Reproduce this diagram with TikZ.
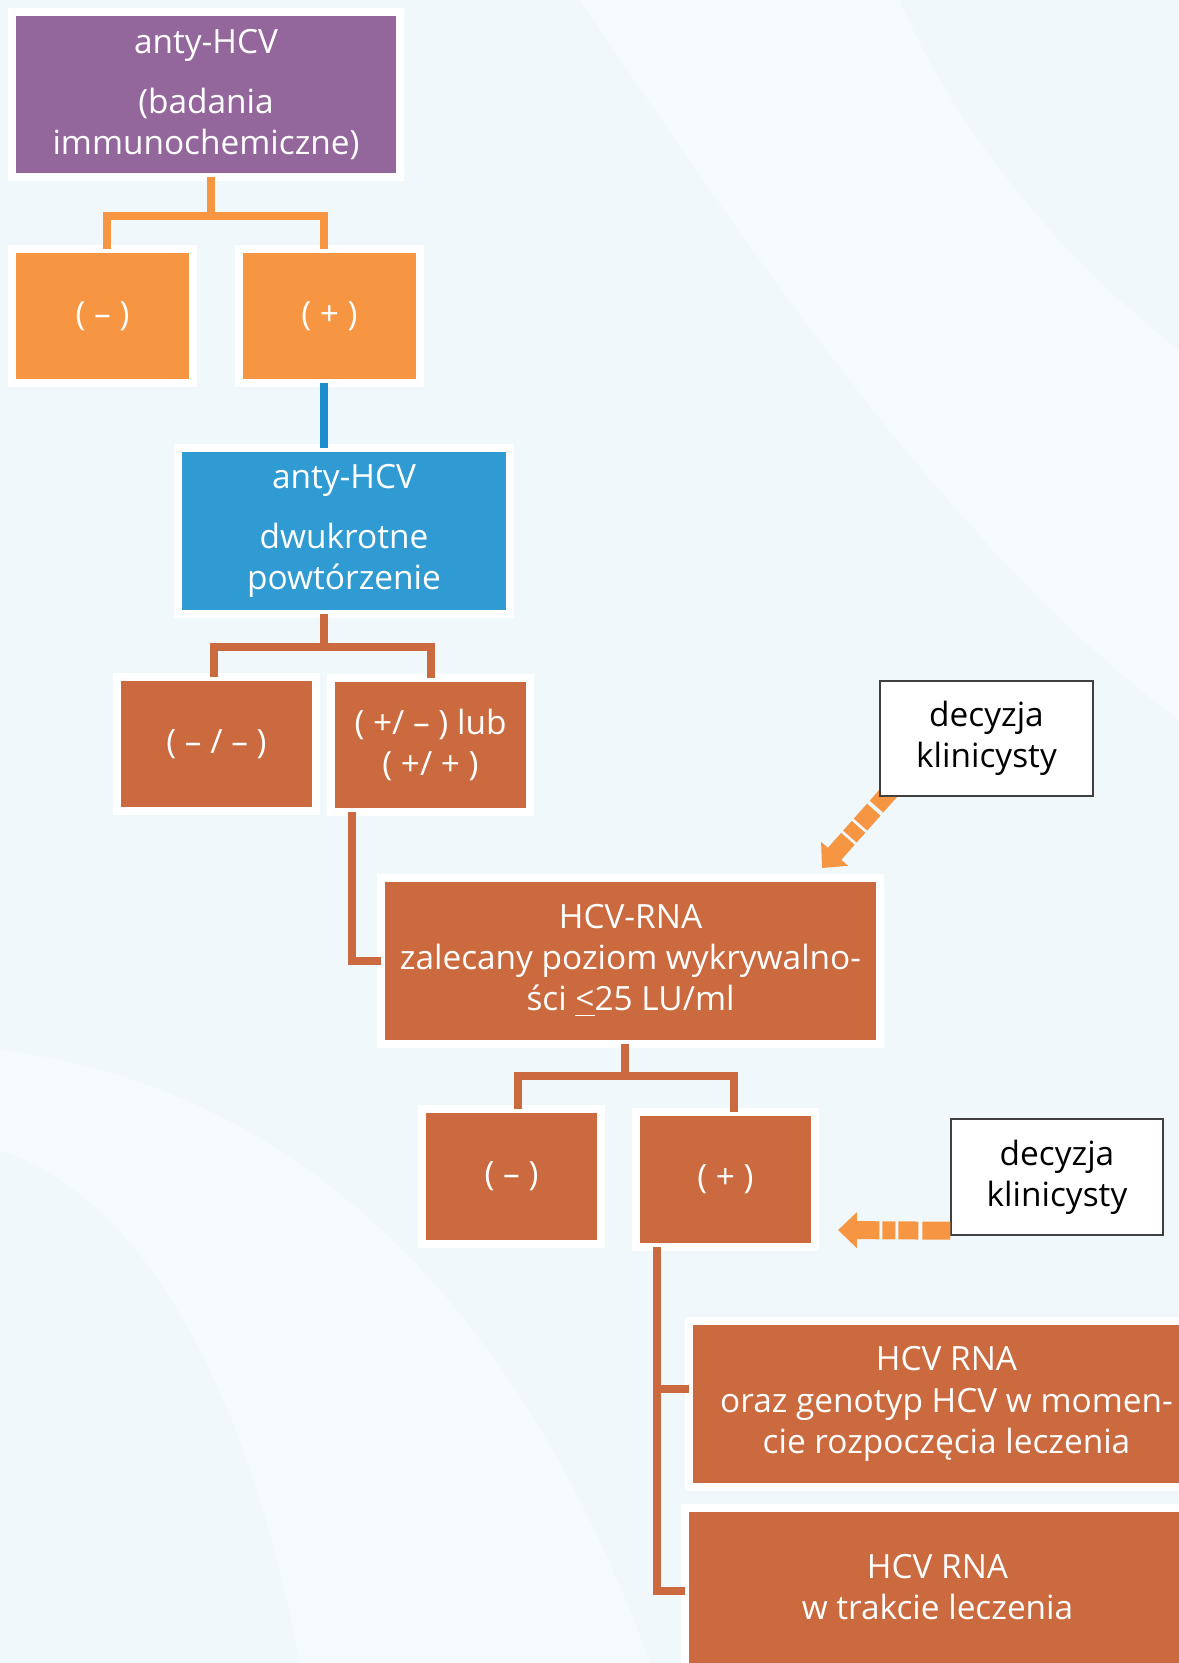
\documentclass[tikz,border=0pt]{standalone}
\usepackage{fontspec}
\setmainfont{Open Sans}
\usetikzlibrary{arrows.meta,positioning,calc}
\pgfdeclarelayer{background}
\pgfsetlayers{background,main}
\definecolor{hcvpurple}{RGB}{148,103,156}
\definecolor{hcvorange}{RGB}{247,150,66}
\definecolor{hcvblue}{RGB}{48,155,210}
\definecolor{hcvlineblue}{RGB}{30,141,203}
\definecolor{hcvbrown}{RGB}{202,106,62}
\definecolor{hcvbg}{RGB}{241,248,252}
\tikzset{link/.style={line width=0.08cm, line join=miter}}

\begin{document}
\begin{tikzpicture}[
    box/.style={rectangle, draw=white, line width=0.08cm, outer sep=0pt, inner sep=0pt,
        text=white, align=center, font=\fontsize{9.5}{11.7}\selectfont},
    note/.style={rectangle, draw=black!75, line width=0.4pt, fill=white, text=black,
        align=center, inner sep=0pt, font=\fontsize{9.5}{11.7}\selectfont},
    hint/.style={draw=hcvorange, line width=0.18cm, -{Triangle[width=0.35cm,length=0.19cm]}}]
    \useasboundingbox (0,0) rectangle (11.79,-16.63);
    \begin{pgfonlayer}{background}
        \fill[hcvbg] (0,0) rectangle (11.79,-16.63);
        % soft light swirls
        \fill[white, opacity=0.3] (5.8,0) .. controls (7.5,-2.5) and (9.5,-5.5) .. (11.79,-7.2)
            -- (11.79,-3.5) .. controls (10.5,-2.5) and (9.5,-1.2) .. (9,0) -- cycle;
        \fill[white, opacity=0.3] (0,-10.5) .. controls (2.5,-10.8) and (5,-12.5) .. (6.5,-16.63)
            -- (3,-16.63) .. controls (2.5,-14) and (1.5,-12) .. (0,-11.5) -- cycle;
    \end{pgfonlayer}

    \node[box, fill=hcvpurple, minimum width=3.88cm, minimum height=1.65cm] (anti1) at (2.06,-0.945)
        {anty-HCV\\[5.4pt](badania\\immunochemiczne)};
    \node[box, fill=hcvorange, minimum width=1.81cm, minimum height=1.34cm] (neg1) at (1.025,-3.16) {( – )};
    \node[box, fill=hcvorange, minimum width=1.81cm, minimum height=1.34cm] (pos1) at (3.295,-3.16) {( + )};

    \node[box, fill=hcvblue, minimum width=3.32cm, minimum height=1.66cm] (anti2) at (3.44,-5.31)
        {anty-HCV\\[5.4pt]dwukrotne\\powtórzenie};
    \node[box, fill=hcvbrown, minimum width=1.99cm, minimum height=1.34cm] (negneg) at (2.165,-7.44) {( – / – )};
    \node[box, fill=hcvbrown, minimum width=1.99cm, minimum height=1.34cm] (posx) at (4.305,-7.45)
        {( +/ – ) lub\\( +/ + )};

    \node[box, fill=hcvbrown, minimum width=4.99cm, minimum height=1.66cm] (rna) at (6.305,-9.61)
        {HCV-RNA\\zalecany poziom wykrywalno-\\ści \underline{<}25 LU/ml};
    \node[box, fill=hcvbrown, minimum width=1.79cm, minimum height=1.35cm] (neg2) at (5.115,-11.765) {( – )};
    \node[box, fill=hcvbrown, minimum width=1.79cm, minimum height=1.35cm] (pos2) at (7.255,-11.795) {( + )};

    \node[box, fill=hcvbrown, minimum width=5.15cm, minimum height=1.66cm] (rnaA) at (9.465,-14.04)
        {HCV RNA\\oraz genotyp HCV w momen-\\cie rozpoczęcia leczenia};
    \node[box, fill=hcvbrown, minimum width=5.19cm, minimum height=1.66cm] (rnaB) at (9.445,-15.91)
        {\hspace*{-0.14cm}\begin{tabular}{@{}c@{}}HCV RNA\\w trakcie leczenia\end{tabular}};

    \node[note, minimum width=2.13cm, minimum height=1.15cm] (dec1) at (9.865,-7.385) {decyzja\\klinicysty};
    \node[note, minimum width=2.12cm, minimum height=1.16cm] (dec2) at (10.57,-11.77) {decyzja\\klinicysty};

    % connectors
    \draw[link, hcvorange] ([xshift=0.05cm]anti1.south) -- ++(0,-0.39) -| ([xshift=0.045cm]neg1.north);
    \draw[link, hcvorange] ([xshift=0.05cm]anti1.south) -- ++(0,-0.39) -| ([xshift=-0.06cm]pos1.north);
    \coordinate (b1) at ([xshift=-0.055cm]pos1.south);
    \draw[link, hcvlineblue] (b1) -- (b1 |- anti2.north);
    \draw[link, hcvbrown] ([xshift=-0.205cm]anti2.south) -- ++(0,-0.33) -| ([xshift=-0.025cm]negneg.north);
    \draw[link, hcvbrown] ([xshift=-0.205cm]anti2.south) -- ++(0,-0.33) -| (posx.north);
    \draw[link, hcvbrown] ([xshift=0.21cm]posx.south west) |- (rna.west);
    \draw[link, hcvbrown] ([xshift=-0.055cm]rna.south) -- ++(0,-0.32) -| ([xshift=0.065cm]neg2.north);
    \draw[link, hcvbrown] ([xshift=-0.055cm]rna.south) -- ++(0,-0.32) -| ([xshift=0.085cm]pos2.north);
    \draw[link, hcvbrown] ([xshift=0.21cm]pos2.south west) |- ([yshift=0.15cm]rnaA.west);
    \draw[link, hcvbrown] ([xshift=0.21cm]pos2.south west) |- (rnaB.west);

    % decision arrows
    \coordinate (tip1) at (8.22,-8.68);
    \coordinate (tip2) at (8.38,-12.30);
    \begin{pgfonlayer}{background}
        \draw[hint, dash pattern=on 0.36cm off 0.04cm on 0.2cm off 0.03cm on 0.13cm off 0.03cm on 1cm]
            ($(dec1.south west)+(0.21,0.17)$) -- (tip1);
    \end{pgfonlayer}
    \draw[hint, dash pattern=on 0.28cm off 0.04cm on 0.2cm off 0.03cm on 0.13cm off 0.03cm on 1cm]
        ($(dec2.south west)+(0,0.05)$) -- (tip2);
\end{tikzpicture}
\end{document}
